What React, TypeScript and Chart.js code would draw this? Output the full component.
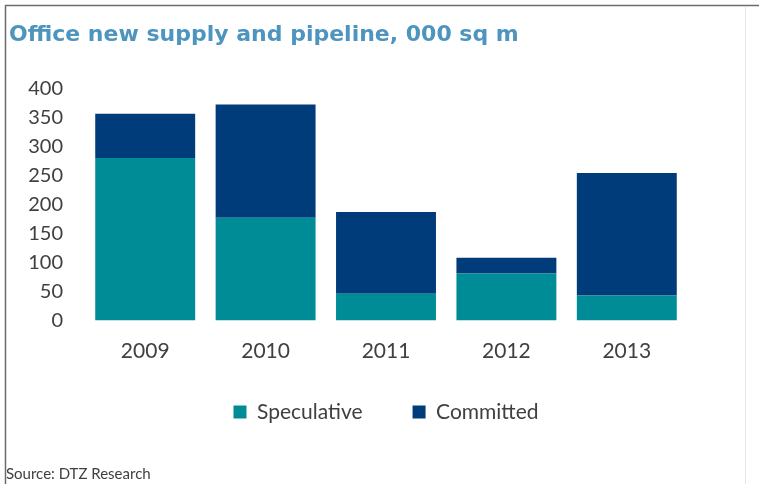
import React, { useEffect, useRef } from "react";
import { Chart, registerables } from "chart.js";

Chart.register(...registerables);

const categories = ["2009", "2010", "2011", "2012", "2013"];
const speculative = [280, 177, 46, 81, 43];
const committed = [76, 195, 141, 27, 211];
const yTicks = [0, 50, 100, 150, 200, 250, 300, 350, 400];
const titleText = "Office new supply and pipeline, 000 sq m";
const sourceText = "Source: DTZ Research";

const FONT = "Lato, 'Open Sans', sans-serif";
const TITLE_FONT = "'DejaVu Sans', Lato, sans-serif";
const TEXT = "#404040";
const LEGEND_SHIFT = 14;

const framePlugin = {
  id: "frame",
  afterLayout(chart: any) {
    const lg = chart.legend;
    if (lg) {
      lg.top -= LEGEND_SHIFT;
      lg.bottom -= LEGEND_SHIFT;
    }
  },
  afterDraw(chart: any) {
    const ctx = chart.ctx;
    ctx.save();
    ctx.strokeStyle = "#6b6b6b";
    ctx.lineWidth = 1.5;
    ctx.beginPath();
    ctx.moveTo(5.5, 484);
    ctx.lineTo(5.5, 5.5);
    ctx.lineTo(759, 5.5);
    ctx.stroke();
    ctx.strokeStyle = "#e4e4e4";
    ctx.lineWidth = 1;
    ctx.beginPath();
    ctx.moveTo(745.5, 6);
    ctx.lineTo(745.5, 484);
    ctx.stroke();
    ctx.fillStyle = TEXT;
    ctx.font = "15px " + FONT;
    ctx.textBaseline = "middle";
    ctx.textAlign = "left";
    ctx.fillText(sourceText, 6, 474);
    ctx.restore();
  },
};

export default function App() {
  const ref = useRef<HTMLCanvasElement>(null);
  useEffect(() => {
    if (!ref.current) return;
    const chart = new Chart(ref.current, {
      type: "bar",
      data: {
        labels: categories,
        datasets: [
          {
            label: "Speculative",
            data: speculative,
            backgroundColor: "#008C96",
            barPercentage: 0.83,
            categoryPercentage: 1,
          },
          {
            label: "Committed",
            data: committed,
            backgroundColor: "#003B7A",
            barPercentage: 0.83,
            categoryPercentage: 1,
          },
        ],
      },
      options: {
        animation: false,
        responsive: false,
        maintainAspectRatio: false,
        layout: { padding: { left: 9, right: 72, top: 0, bottom: 37.5 } },
        plugins: {
          title: {
            display: true,
            text: titleText,
            align: "start",
            color: "#4D95BE",
            font: { family: TITLE_FONT, size: 22, weight: "bold" },
            padding: { top: 22.3, bottom: 39.5 },
          },
          legend: {
            position: "bottom",
            fullSize: false,
            labels: {
              color: TEXT,
              font: { family: FONT, size: 21 },
              boxWidth: 13,
              boxHeight: 13,
              padding: 50,
            },
          },
          tooltip: { enabled: false },
        },
        scales: {
          x: {
            stacked: true,
            afterFit: (scale: any) => {
              scale.height = 45;
            },
            grid: { display: false, drawTicks: false },
            border: { display: false },
            ticks: { color: TEXT, font: { family: FONT, size: 21 }, padding: 18.5 },
          },
          y: {
            stacked: true,
            min: 0,
            max: 400,
            afterBuildTicks: (scale: any) => {
              scale.ticks = yTicks.map((v) => ({ value: v }));
            },
            afterFit: (scale: any) => {
              scale.width = 76;
            },
            grid: { display: false, drawTicks: false },
            border: { display: false },
            ticks: { color: TEXT, font: { family: FONT, size: 20 }, padding: 22 },
          },
        },
      },
      plugins: [framePlugin],
    });
    return () => chart.destroy();
  }, []);
  return (
    <div style={{ position: "fixed", left: 0, top: 0, width: 759, height: 484, background: "#fff" }}>
      <canvas ref={ref} width={759} height={484} style={{ display: "block" }} />
    </div>
  );
}
